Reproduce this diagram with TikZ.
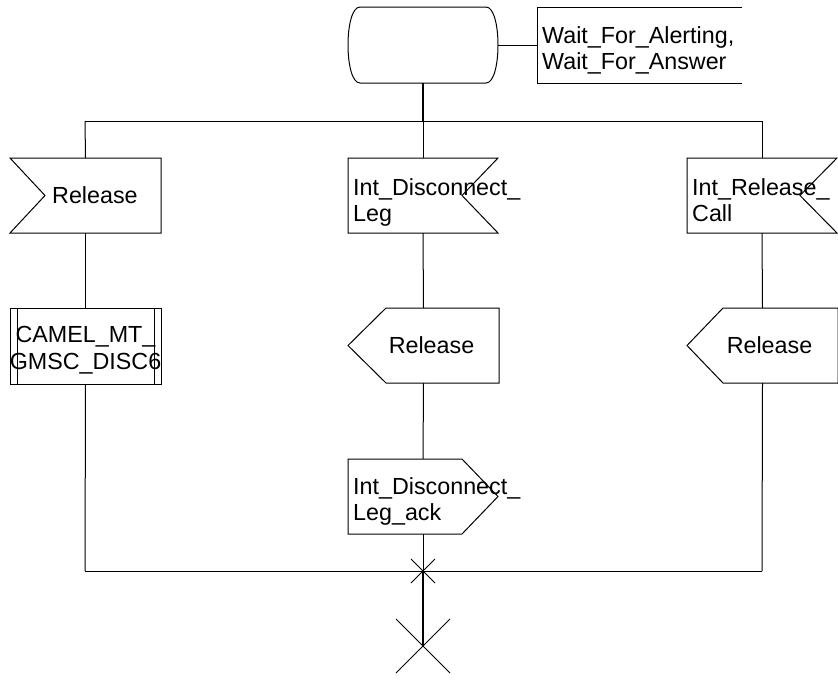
\documentclass[tikz,border=0pt]{standalone}
\usepackage{fontspec}
\setmainfont{Liberation Sans}
\begin{document}
\begin{tikzpicture}[x=1pt,y=-1pt,
  thin/.style={line width=1pt,draw=black},
  thickline/.style={line width=2pt,draw=black},
  holder/.style={draw=none,inner sep=0pt,minimum width=150pt,minimum height=75pt},
  lbl/.style={inner sep=0pt,font=\fontsize{23.3}{26.7}\selectfont}]
\useasboundingbox (0,0) rectangle (838,683);
% state symbol
\node[holder,minimum width=150pt,minimum height=76pt] (state) at (423,45) {};
\draw[thin] (360,7) -- (486,7) .. controls (502,7) and (502,83) .. (486,83)
  -- (360,83) .. controls (344,83) and (344,7) .. (360,7);
% comment box
\node[draw=none,inner sep=0pt,minimum width=205pt,minimum height=76pt] (wbox) at (639.5,45) {};
\draw[thin] (742,7) -- (537,7) -- (537,83) -- (742,83);
\node[lbl,anchor=north west,align=left] (wtxt) at (542,26) {Wait\_For\_Alerting,\\Wait\_For\_Answer};
\draw[thin] (state.east) -- (wbox.west);
% branch line
\coordinate (btop) at (423,121);
\coordinate (bl) at (85,121);
\coordinate (br) at (762,121);
\draw[thickline] (state.south) -- (btop);
\draw[thin] (bl) -- (br);
% inputs
\node[holder,minimum width=151pt] (rel) at (85.5,195.5) {};
\draw[thin] (10,158) -- (161,158) -- (161,233) -- (10,233) -- (45,195.5) -- cycle;
\node[lbl,anchor=west] (reltxt) at (52,195) {Release};

\node[holder] (idl) at (423,195.5) {};
\draw[thin] (348,158) -- (498,158) -- (462,195.5) -- (498,233) -- (348,233) -- cycle;
\node[lbl,anchor=north west,align=left] (idltxt) at (353,178) {Int\_Disconnect\_\\Leg};

\node[holder] (irc) at (762,195.5) {};
\draw[thin] (687,158) -- (837,158) -- (800,195.5) -- (837,233) -- (687,233) -- cycle;
\node[lbl,anchor=north west,align=left] (irctxt) at (692,178) {Int\_Release\_\\Call};

\draw[thin] (bl) -- (rel.north);
\draw[thin] (btop) -- (idl.north);
\draw[thin] (br) -- (irc.north);

% procedure call
\node[holder,minimum width=151pt,minimum height=76pt] (camel) at (85.5,346) {};
\draw[thin] (10,308) rectangle (161,384);
\draw[thin] (17,308) -- (17,384);
\draw[thin] (154,308) -- (154,384);
\node[lbl,anchor=north,align=center] (cameltxt) at (85.5,326) {CAMEL\_MT\_\\GMSC\_DISC6};

% outputs
\node[holder,minimum width=151pt] (rout1) at (423.5,345.5) {};
\draw[thin] (386,308) -- (499,308) -- (499,383) -- (386,383) -- (348,345.5) -- cycle;
\node[lbl] (rout1txt) at (431.5,345.5) {Release};

\node[holder,minimum width=151pt] (rout2) at (762.5,345.5) {};
\draw[thin] (723,308) -- (838,308) -- (838,383) -- (723,383) -- (687,345.5) -- cycle;
\node[lbl] (rout2txt) at (769.5,345.5) {Release};

\node[holder] (ack) at (423,496.5) {};
\draw[thin] (348,459) -- (462,459) -- (498,496.5) -- (462,534) -- (348,534) -- cycle;
\node[lbl,anchor=north west,align=left] (acktxt) at (353,477) {Int\_Disconnect\_\\Leg\_ack};

% vertical connectors
\coordinate (jl) at (85,571);
\coordinate (jm) at (423,571);
\coordinate (jr) at (762,571);
\draw[thin] (rel.south) -- (camel.north);
\draw[thin] (camel.south) -- (jl);
\draw[thin] (idl.south) -- (rout1.north);
\draw[thin] (rout1.south) -- (ack.north);
\draw[thin] (ack.south) -- (jm);
\draw[thin] (irc.south) -- (rout2.north);
\draw[thin] (rout2.south) -- (jr);
\draw[thin] (jl) -- (jr);
% join cross
\draw[thin] (411,559) -- (435,583);
\draw[thin] (411,583) -- (435,559);
% stop
\coordinate (stop) at (423,646);
\draw[thickline] (jm) -- (stop);
\draw[thin] (396,619) -- (450,673);
\draw[thin] (396,673) -- (450,619);
\end{tikzpicture}
\end{document}
